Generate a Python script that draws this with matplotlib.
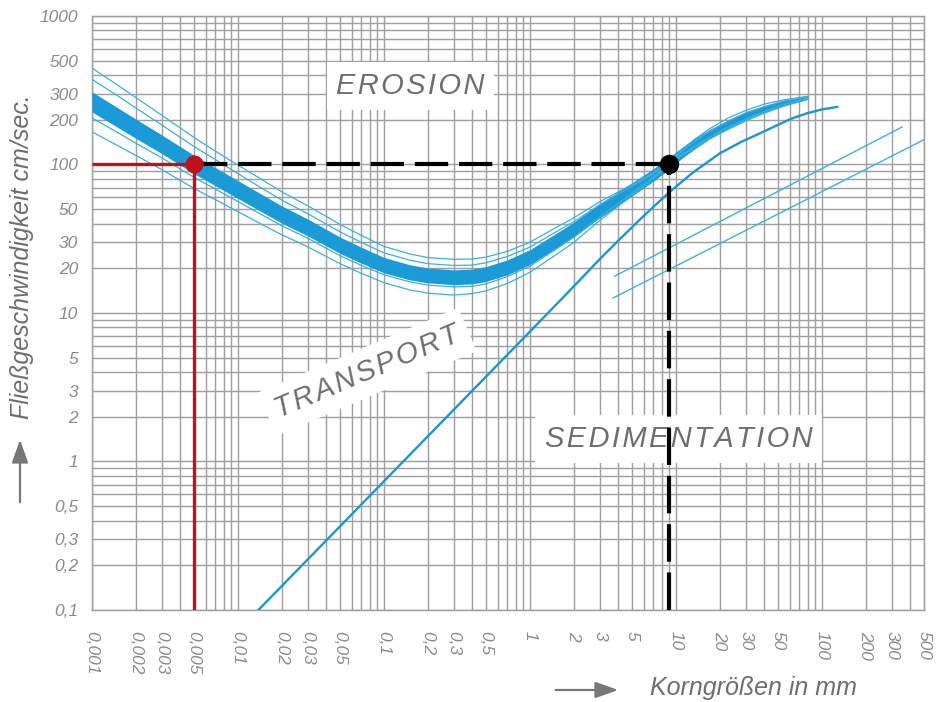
import matplotlib
matplotlib.use("Agg")
import matplotlib.pyplot as plt
from matplotlib.patches import FancyArrowPatch
from matplotlib.ticker import NullFormatter
import numpy as np

# ---- axis ticks -------------------------------------------------------------
grain_ticks = [0.001, 0.002, 0.003, 0.005, 0.01, 0.02, 0.03, 0.05, 0.1, 0.2, 0.3,
               0.5, 1, 2, 3, 5, 10, 20, 30, 50, 100, 200, 300, 500]
grain_labels = ["0,001", "0,002", "0,003", "0,005", "0,01", "0,02", "0,03", "0,05",
                "0,1", "0,2", "0,3", "0,5", "1", "2", "3", "5", "10", "20", "30",
                "50", "100", "200", "300", "500"]
speed_ticks = [0.1, 0.2, 0.3, 0.5, 1, 2, 3, 5, 10, 20, 30, 50, 100, 200, 300, 500, 1000]
speed_labels = ["0,1", "0,2", "0,3", "0,5", "1", "2", "3", "5", "10", "20", "30", "50",
                "100", "200", "300", "500", "1000"]

# ---- erosion band (grain size in mm, velocity in cm/s) ----------------------
erosion_d = [0.001, 0.0015, 0.002, 0.003, 0.005, 0.007, 0.01, 0.015, 0.02, 0.03,
             0.05, 0.07, 0.1, 0.15, 0.2, 0.3, 0.4, 0.5, 0.7, 1, 1.5, 2, 3, 5, 7, 9,
             11, 13.3, 17, 23, 30, 40, 55, 80]
erosion_mid = [264, 207, 174, 137, 100, 82.8, 67.8, 54, 46, 37.7, 28.6, 24.5, 21,
               18.8, 17.9, 17.4, 17.6, 18.3, 20.3, 23.8, 30.5, 36.5, 48.7, 68, 85,
               102, 120, 137, 160, 188, 212, 236, 260, 282]
# half thickness of the band in decades
erosion_half = [0.068, 0.066, 0.065, 0.063, 0.062, 0.061, 0.06, 0.059, 0.058, 0.057,
                0.055, 0.054, 0.052, 0.051, 0.05, 0.05, 0.05, 0.05, 0.05, 0.05, 0.05,
                0.05, 0.048, 0.045, 0.042, 0.04, 0.037, 0.035, 0.032, 0.028, 0.025,
                0.021, 0.017, 0.012]

# thin envelope curves around the band
env_outer_up = [446, 342, 282, 215, 152, 123, 99, 77.8, 65.3, 52.8, 39.5, 33.3, 28.1,
                25.0, 23.6, 23.0, 23.1, 23.8, 26.0, 30.0, 37.5, 43.8, 56.0, 73.4,
                88.4, 104, 126, 147, 174, 207, 231, 255, 273, 288]
env_inner_up = [375, 290, 240, 185, 132, 108, 86.8, 68.0, 57.5, 46.7, 35.2, 29.9,
                25.4, 22.7, 21.5, 20.9, 21.0, 21.8, 24.0, 27.8, 35.1, 41.2, 53.6,
                71.4, 86.7, 103, 123, 142, 167, 197, 223, 245, 268, 285]
env_inner_low = [206, 164, 139, 111, 82, 68.3, 56.3, 45.1, 38.6, 31.9, 24.3, 20.9,
                 18.1, 16.2, 15.4, 15.0, 15.1, 15.7, 17.6, 20.7, 26.8, 32.5, 44.3,
                 63.9, 82.5, 100.5, 117, 132, 153, 179, 202, 227, 254, 279]
env_outer_low = [166, 134, 115, 92.5, 69, 58, 48.1, 38.9, 33.6, 27.9, 21.5, 18.5,
                 16.0, 14.3, 13.6, 13.2, 13.5, 14.1, 15.8, 18.8, 24.6, 29.9, 41.9,
                 61.9, 80.8, 99.5, 115, 129, 149, 173, 196, 221, 247, 275]

# ---- sedimentation curve -----------------------------------------------------
sed_d = [0.0138, 1.0, 1.8, 3, 4.2, 6, 9, 13, 20, 28, 38, 50, 62, 80, 100, 127]
sed_v = [0.1, 7.5, 13.6, 23, 32, 45, 65, 88, 119, 142, 163, 185, 204, 222, 235, 244]

# ---- straight lines for coarse grains ----------------------------------------
coarse_a_d = [3.8, 354]
coarse_a_v = [17.7, 179]
coarse_b_d = [3.7, 500]
coarse_b_v = [12.6, 147]

# ---- reading example ---------------------------------------------------------
read_velocity = 100
read_fine = 0.005
read_coarse = 9

# ---- styling -----------------------------------------------------------------
FONT = ["Liberation Sans", "DejaVu Sans"]
GRID = "#a0a0a0"
TICK_TXT = "#8a8a8a"
LABEL_TXT = "#6e6e6e"
BAND = "#1b9ad8"
THIN = "#3cb0da"
SED = "#1c96d2"
RED = "#c0111a"

W, H = 939, 702
fig = plt.figure(figsize=(W / 100, H / 100), dpi=100)
fig.patch.set_facecolor("white")
ax = fig.add_axes([92 / W, 1 - 610 / H, 832 / W, 594 / H])
ax.set_xscale("log")
ax.set_yscale("log")
ax.set_xlim(0.001, 500)
ax.set_ylim(0.1, 1000)

# grid: every 1..9 step per decade
xgrid = [m * 10.0 ** e for e in range(-3, 3) for m in range(1, 10)
         if m * 10.0 ** e <= 500 + 1e-9]
ygrid = [m * 10.0 ** e for e in range(-1, 4) for m in range(1, 10)
         if m * 10.0 ** e <= 1000 + 1e-9]
ax.set_xticks(xgrid, minor=True)
ax.set_yticks(ygrid, minor=True)
ax.set_xticks(grain_ticks)
ax.set_yticks(speed_ticks)
ax.set_xticklabels(grain_labels)
ax.set_yticklabels(speed_labels)
ax.xaxis.set_minor_formatter(NullFormatter())
ax.yaxis.set_minor_formatter(NullFormatter())
ax.grid(True, which="both", color=GRID, lw=1.05, zorder=0)
ax.set_axisbelow(True)
ax.tick_params(which="both", length=0)
ax.tick_params(axis="x", pad=15)
ax.tick_params(axis="y", pad=10)
for lab in ax.get_xticklabels():
    lab.set_rotation(-90)
    lab.set_va("top")
    lab.set_ha("center")
for lab in ax.get_xticklabels() + ax.get_yticklabels():
    lab.set_fontfamily(FONT)
    lab.set_fontstyle("italic")
    lab.set_fontsize(12.5)
    lab.set_color(TICK_TXT)
for s in ax.spines.values():
    s.set_color(GRID)
    s.set_linewidth(1.05)

# erosion band and envelopes
mid = np.array(erosion_mid)
half = np.array(erosion_half)
ax.fill_between(erosion_d, mid / 10 ** half, mid * 10 ** half, color=BAND, lw=0,
                zorder=3)
for env in (env_outer_up, env_inner_up, env_inner_low, env_outer_low):
    ax.plot(erosion_d, env, color=THIN, lw=0.9, zorder=4)

# sedimentation and coarse lines
ax.plot(sed_d, sed_v, color=SED, lw=1.7, zorder=4)
ax.plot(coarse_a_d, coarse_a_v, color=THIN, lw=1.0, zorder=4)
ax.plot(coarse_b_d, coarse_b_v, color=THIN, lw=1.0, zorder=4)

# reading example
ax.plot([0.001, read_fine], [read_velocity, read_velocity], color=RED, lw=2.4,
        solid_capstyle="butt", zorder=6)
ax.plot([read_fine, read_fine], [0.1, read_velocity], color=RED, lw=2.4,
        solid_capstyle="butt", zorder=6)
ax.plot([read_fine, read_coarse], [read_velocity, read_velocity], color="black",
        lw=3, dashes=(8, 2.6), zorder=6)
ax.plot([read_coarse, read_coarse], [0.1, read_velocity], color="black",
        lw=3, dashes=(9, 2.6), zorder=6)
ax.plot([read_fine], [read_velocity], "o", color=RED, ms=12, zorder=7)
ax.plot([read_coarse], [read_velocity], "o", color="black", ms=13, zorder=7)

# region names
hs = "\u200a"
box = dict(boxstyle="square,pad=0.33", fc="white", ec="none")
for word, x, y, rot in (("EROSION", 0.383, 0.882, 0),
                        ("TRANSPORT", 0.331, 0.401, 23),
                        ("SEDIMENTATION", 0.705, 0.288, 0)):
    ax.text(x, y, hs.join(word), transform=ax.transAxes, ha="center", va="center",
            rotation=rot, rotation_mode="anchor", fontsize=21, fontstyle="italic",
            family=FONT, color=LABEL_TXT, bbox=box, zorder=5)

# axis titles with arrows
fig.text(22 / W, 1 - 257 / H, "Fließgeschwindigkeit cm/sec.", rotation=90,
         ha="center", va="center", fontsize=18, fontstyle="italic", family=FONT,
         color=LABEL_TXT)
fig.text(754 / W, 1 - 688 / H, "Korngrößen in mm", ha="center", va="center",
         fontsize=18, fontstyle="italic", family=FONT, color=LABEL_TXT)
arrow_style = "-|>,head_length=0.7,head_width=0.25"
for start, end in (((20, 505), (20, 437)), ((553, 690), (621, 690))):
    fig.add_artist(FancyArrowPatch(
        (start[0] / W, 1 - start[1] / H), (end[0] / W, 1 - end[1] / H),
        transform=fig.transFigure, arrowstyle=arrow_style, color="#777777",
        lw=1.6, mutation_scale=20))

fig.savefig("out.png", dpi=100)
